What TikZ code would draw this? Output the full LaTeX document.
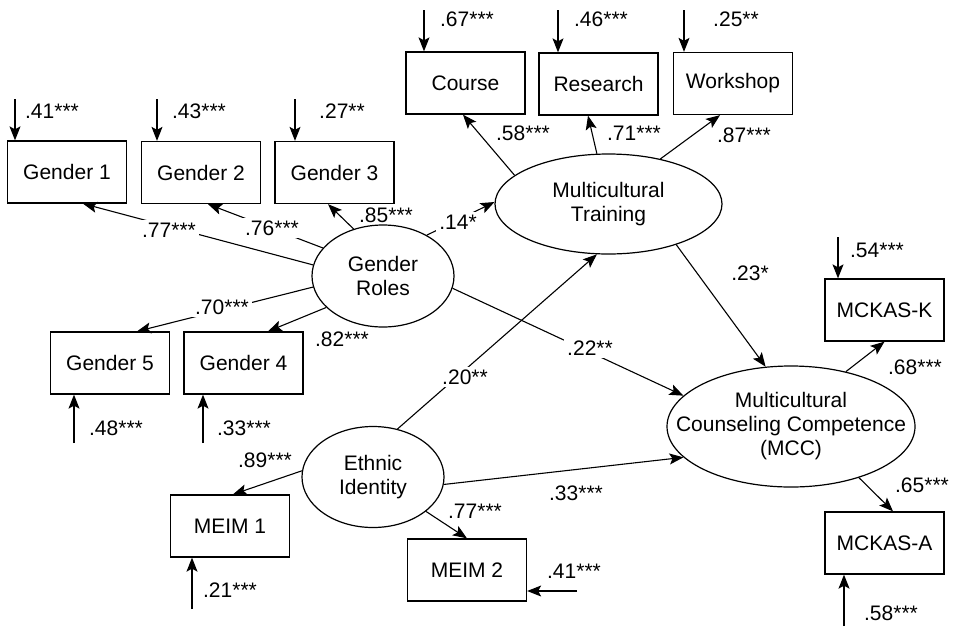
\documentclass[tikz,border=0pt]{standalone}
\usepackage{fontspec}
\setmainfont{Liberation Sans}
\usetikzlibrary{shapes.geometric, arrows.meta}

\begin{document}
\begin{tikzpicture}[x=0.5pt, y=-0.5pt,
    font=\fontsize{10.5}{12}\selectfont,
    obsBox/.style={draw, line width=0.65pt, minimum width=59.5pt, minimum height=31pt, inner sep=0pt},
    latentVar/.style={draw, ellipse, line width=0.6pt, inner sep=0pt, align=center},
    pathArrow/.style={line width=0.55pt, -{Stealth[length=7pt, width=5.5pt, inset=1.5pt]}},
    coefLabel/.style={inner sep=1pt},
    cutLabel/.style={fill=white, inner sep=1.5pt}]

    % Fix the page size
    \useasboundingbox (0,0) rectangle (957,627);

    % Observed indicators
    \node[obsBox] (g1) at (67,172) {Gender 1};
    \node[obsBox] (g2) at (201,172.5) {Gender 2};
    \node[obsBox] (g3) at (334.5,172.5) {Gender 3};
    \node[obsBox] (g5) at (110,363) {Gender 5};
    \node[obsBox] (g4) at (243.5,363) {Gender 4};
    \node[obsBox] (course) at (465.5,83) {Course};
    \node[obsBox] (research) at (598.5,84) {Research};
    \node[obsBox] (workshop) at (733,83.5) {Workshop};
    \node[obsBox] (meim1) at (230,526) {MEIM 1};
    \node[obsBox] (meim2) at (467,570) {MEIM 2};
    \node[obsBox] (mckasK) at (884.5,310) {MCKAS-K};
    \node[obsBox] (mckasA) at (884.5,543) {MCKAS-A};

    % Latent variables
    \node[latentVar, minimum width=71pt, minimum height=51pt] (gr) at (383,276) {Gender\\Roles};
    \node[latentVar, minimum width=113.5pt, minimum height=50pt] (mt) at (608.5,204) {Multicultural\\Training};
    \node[latentVar, minimum width=71pt, minimum height=50.5pt] (ei) at (373,477) {Ethnic\\Identity};
    \node[latentVar, minimum width=124pt, minimum height=60.5pt,
        label={[align=center]center:Multicultural\\Counseling Competence\\(MCC)}] (mcc) at (791,426.5) {};

    % Loadings of Gender Roles
    \draw[pathArrow] (gr.171) -- ([xshift=8pt]g1.south);
    \draw[pathArrow] (gr.155) -- ([xshift=3.5pt]g2.south);
    \draw[pathArrow] (gr.122) -- ([xshift=-3.25pt]g3.south);
    \draw[pathArrow] (gr.189) -- ([xshift=13.5pt]g5.north);
    \draw[pathArrow] (gr.209) -- ([xshift=12.25pt]g4.north);

    % Loadings of Multicultural Training
    \draw[pathArrow] (mt.163) -- ([xshift=-1.25pt]course.south);
    \draw[pathArrow] (mt.103) -- ([xshift=-5.25pt]research.south);
    \draw[pathArrow] (mt.41) -- ([xshift=-6.5pt]workshop.south);

    % Loadings of Ethnic Identity
    \draw[pathArrow] (ei.175) -- ([xshift=1.5pt]meim1.north);
    \draw[pathArrow] (ei.327) -- (meim2.north);

    % Loadings of MCC
    \draw[pathArrow] (mcc.45) -- (mckasK.south);
    \draw[pathArrow] (mcc.323) -- ([xshift=4.25pt]mckasA.north);

    % Structural paths
    \draw[pathArrow] (gr.43) -- (mt.179);
    \draw[pathArrow] (gr.350) -- (mcc.164);
    \draw[pathArrow] (ei.63) -- (mt.257);
    \draw[pathArrow] (ei.354) -- (mcc.196);
    \draw[pathArrow] (mt.329) -- (mcc.113);

    % Error terms
    \coordinate (eG1) at (15,99);
    \coordinate (eG2) at (157,99);
    \coordinate (eG3) at (295,99);
    \coordinate (eCourse) at (424,10);
    \coordinate (eResearch) at (558,10);
    \coordinate (eWorkshop) at (684,10);
    \coordinate (eK) at (838,237);
    \coordinate (eG5) at (74,443);
    \coordinate (eG4) at (203,443);
    \coordinate (eM1) at (192,609);
    \coordinate (eM2) at (577,591);
    \coordinate (eA) at (844,626);

    \foreach \e/\b in {eG1/g1, eG2/g2, eG3/g3, eCourse/course, eResearch/research, eWorkshop/workshop, eK/mckasK}
        \draw[pathArrow] (\e) -- (\e |- \b.north);
    \foreach \e/\b in {eG5/g5, eG4/g4, eM1/meim1, eA/mckasA}
        \draw[pathArrow] (\e) -- (\e |- \b.south);
    \draw[pathArrow] (eM2) -- (eM2 -| meim2.east);

    % Error labels
    \node[coefLabel] (lEG1) at (52,111) {.41***};
    \node[coefLabel] (lEG2) at (199,111) {.43***};
    \node[coefLabel] (lEG3) at (342,111) {.27**};
    \node[coefLabel] (lECourse) at (467,19) {.67***};
    \node[coefLabel] (lEResearch) at (601,19) {.46***};
    \node[coefLabel] (lEWorkshop) at (736,19) {.25**};
    \node[coefLabel] (lEK) at (877,250) {.54***};
    \node[coefLabel] (lEG5) at (116,428) {.48***};
    \node[coefLabel] (lEG4) at (244,428) {.33***};
    \node[coefLabel] (lEM1) at (230,590) {.21***};
    \node[coefLabel] (lEM2) at (574,571) {.41***};
    \node[coefLabel] (lEA) at (891,613) {.58***};

    % Path labels that cut the line
    \node[cutLabel] (lG1) at (169,230) {.77***};
    \node[cutLabel] (lG2) at (272,228) {.76***};
    \node[cutLabel] (lG5) at (222,307) {.70***};
    \node[cutLabel] (lGrMt) at (458,222) {.14*};
    \node[cutLabel] (lGrMcc) at (590,348) {.22**};
    \node[cutLabel] (lEiMt) at (465,377) {.20**};

    % Path labels beside the line
    \node[coefLabel] (lG3) at (386,215) {.85***};
    \node[coefLabel] (lG4) at (342,339) {.82***};
    \node[coefLabel] (lCourse) at (523,133) {.58***};
    \node[coefLabel] (lResearch) at (634,133) {.71***};
    \node[coefLabel] (lWorkshop) at (744,135) {.87***};
    \node[coefLabel] (lMtMcc) at (750,273) {.23*};
    \node[coefLabel] (lM1) at (265,460) {.89***};
    \node[coefLabel] (lM2) at (475,511) {.77***};
    \node[coefLabel] (lEiMcc) at (576,493) {.33***};
    \node[coefLabel] (lK) at (915,367) {.68***};
    \node[coefLabel] (lA) at (922,485) {.65***};

\end{tikzpicture}
\end{document}
